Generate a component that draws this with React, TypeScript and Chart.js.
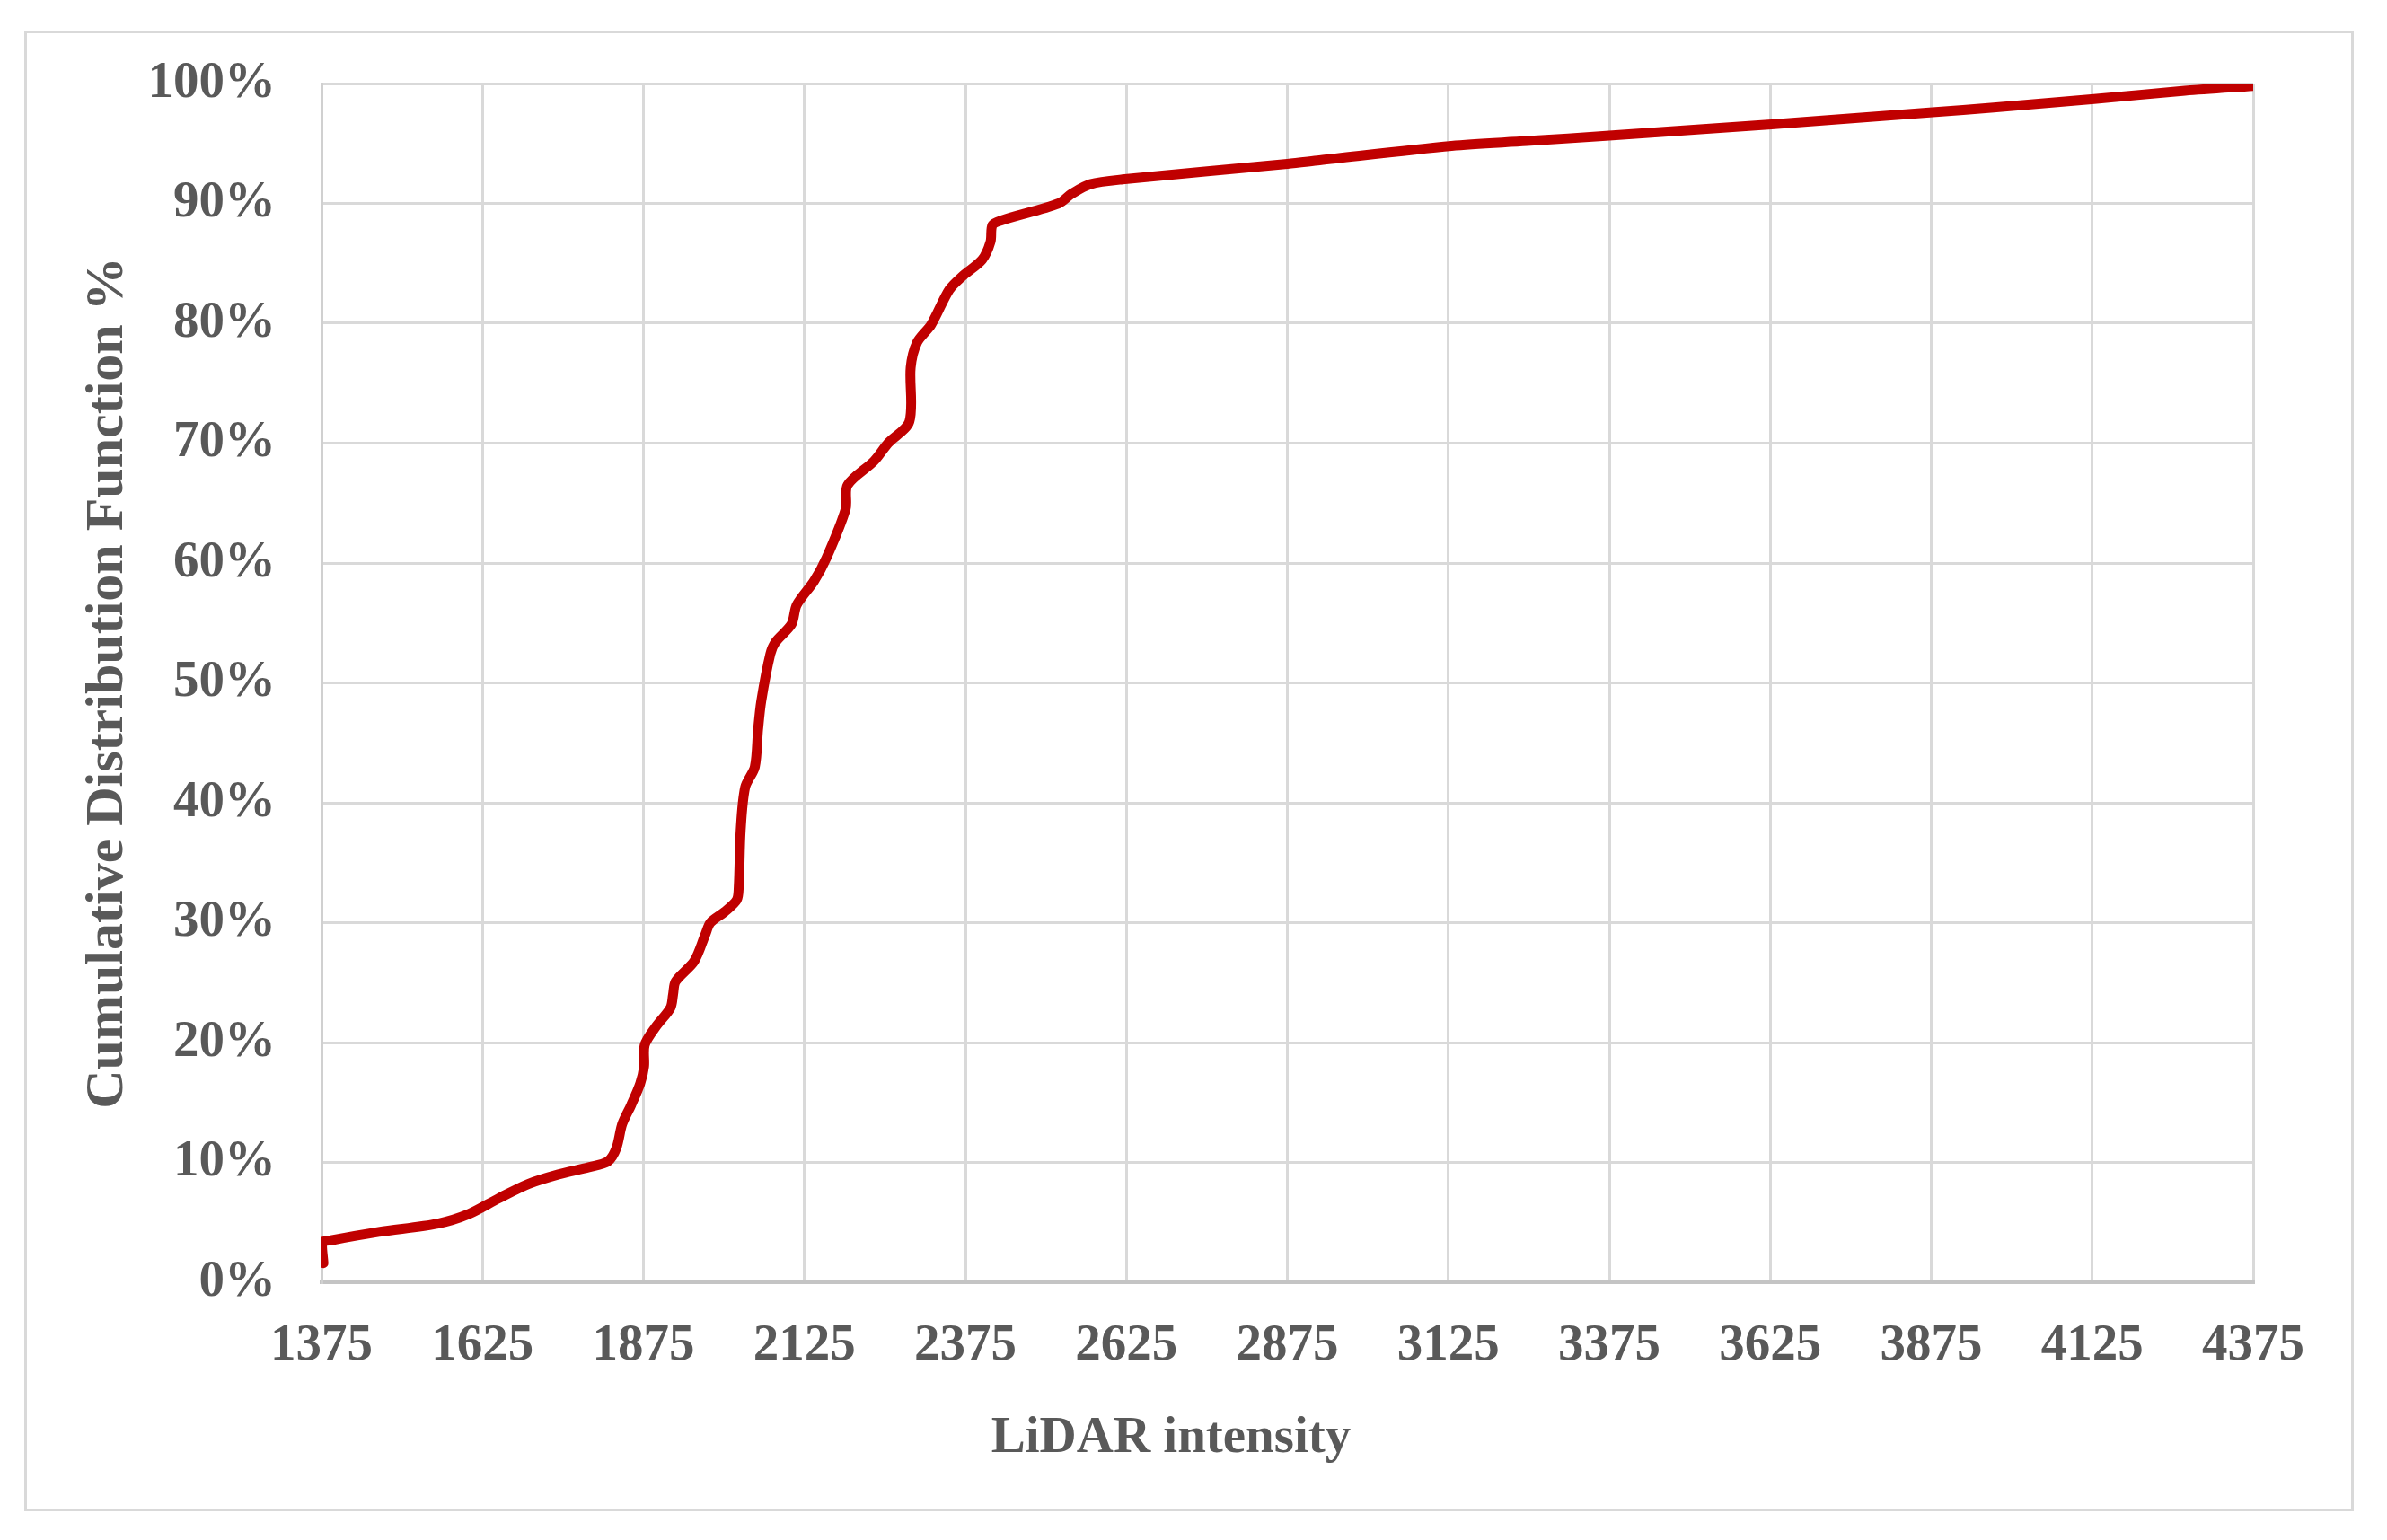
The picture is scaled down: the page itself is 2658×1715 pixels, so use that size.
import React, { useEffect, useRef } from 'react';
import { Chart, registerables } from 'chart.js';

Chart.register(...registerables);

// LiDAR intensity values (x) and cumulative distribution in percent (y)
const intensity = [
  1378, 1376, 1390, 1464, 1556, 1604, 1650, 1696, 1743, 1790,
  1820, 1833, 1842, 1856, 1870, 1876, 1877, 1894, 1917, 1921,
  1925, 1954, 1971, 1979, 2001, 2020, 2023, 2026, 2033, 2048,
  2053, 2058, 2072, 2080, 2105, 2113, 2140, 2159, 2189, 2192,
  2233, 2255, 2288, 2290, 2300, 2322, 2350, 2372, 2401, 2414,
  2417, 2432, 2520, 2540, 2569, 2619, 2875, 2925, 3130, 3247,
  3375, 3627, 3877, 3972, 4128, 4269, 4375,
];
const cdfPercent = [
  1.6, 3.3, 3.5, 4.2, 4.9, 5.7, 7.0, 8.2, 9.0, 9.6,
  10.1, 11.2, 13.2, 14.8, 16.6, 18.0, 19.8, 21.3, 22.9, 24.0,
  25.1, 26.8, 29.0, 30.0, 30.9, 31.9, 33.0, 37.7, 41.3, 43.0,
  46.1, 48.5, 52.4, 53.4, 54.9, 56.5, 58.5, 60.4, 64.5, 66.5,
  68.5, 70.0, 71.8, 76.3, 78.4, 79.9, 82.8, 84.0, 85.3, 86.8,
  88.2, 88.6, 90.0, 90.8, 91.6, 92.0, 93.3, 93.6, 94.8, 95.2,
  95.65, 96.6, 97.6, 98.0, 98.7, 99.4, 99.8,
];
const xTicks = [1375, 1625, 1875, 2125, 2375, 2625, 2875, 3125, 3375, 3625, 3875, 4125, 4375];
const yMin = 0;
const yMax = 100;
const yStep = 10;

const xTitle = 'LiDAR intensity';
const yTitle = 'Cumulative Distribution Function %';

const FONT_FAMILY = "'Liberation Serif', 'Times New Roman', Times, serif";
const TEXT_COLOR = '#595959';
const GRID_COLOR = '#d9d9d9';

export default function App() {
  const canvasRef = useRef<HTMLCanvasElement>(null);

  useEffect(() => {
    const canvas = canvasRef.current;
    if (!canvas) return;
    const chart = new Chart(canvas, {
      type: 'line',
      data: {
        datasets: [
          {
            data: intensity.map((x, i) => ({ x, y: cdfPercent[i] })),
            borderColor: '#c00000',
            backgroundColor: '#c00000',
            borderWidth: 11,
            pointRadius: 0,
            pointHoverRadius: 0,
            tension: 0.3,
            borderCapStyle: 'round',
            borderJoinStyle: 'round',
            fill: false,
          },
        ],
      },
      options: {
        animation: false,
        responsive: false,
        maintainAspectRatio: false,
        events: [],
        layout: { padding: { left: 69, right: 109, top: 56, bottom: 0 } },
        plugins: {
          legend: { display: false },
          tooltip: { enabled: false },
          title: {
            display: true,
            position: 'bottom',
            text: xTitle,
            color: TEXT_COLOR,
            font: { family: FONT_FAMILY, size: 57, weight: 'bold', lineHeight: 1.2 },
            padding: { top: 0, bottom: 43.6 },
          },
        },
        scales: {
          x: {
            type: 'linear',
            min: xTicks[0],
            max: xTicks[xTicks.length - 1],
            afterBuildTicks: (scale: any) => {
              scale.ticks = xTicks.map((v) => ({ value: v }));
            },
            afterFit: (scale: any) => {
              scale.height = 140;
            },
            ticks: {
              autoSkip: false,
              maxRotation: 0,
              minRotation: 0,
              padding: 37,
              color: TEXT_COLOR,
              font: { family: FONT_FAMILY, size: 57, weight: 'bold', lineHeight: 1.2 },
              callback: (v: any) => String(v),
            },
            grid: { color: GRID_COLOR, lineWidth: 3, drawTicks: false },
            border: { display: true, color: '#c4c4c4', width: 4 },
          },
          y: {
            type: 'linear',
            min: yMin,
            max: yMax,
            afterFit: (scale: any) => {
              scale.width = 259;
            },
            ticks: {
              stepSize: yStep,
              padding: 0,
              color: TEXT_COLOR,
              font: { family: FONT_FAMILY, size: 57, weight: 'bold', lineHeight: 1.2 },
              callback: (v: any) => `${v}%`,
            },
            title: {
              display: true,
              text: yTitle,
              color: TEXT_COLOR,
              font: { family: FONT_FAMILY, size: 60, weight: 'bold', lineHeight: 0.7 },
              padding: 0,
            },
            grid: {
              color: GRID_COLOR,
              lineWidth: 3,
              drawTicks: true,
              tickLength: 51,
              tickColor: 'rgba(0,0,0,0)',
            },
            border: { display: true, color: '#d0d0d0', width: 3 },
          },
        },
      },
    } as any);
    return () => chart.destroy();
  }, []);

  return (
    <div
      style={{
        position: 'absolute',
        left: 27,
        top: 34,
        width: 2594,
        height: 1649,
        border: '3px solid #d9d9d9',
        boxSizing: 'border-box',
        background: '#ffffff',
      }}
    >
      <canvas
        ref={canvasRef}
        width={2588}
        height={1643}
        style={{ display: 'block', width: 2588, height: 1643 }}
      />
    </div>
  );
}
